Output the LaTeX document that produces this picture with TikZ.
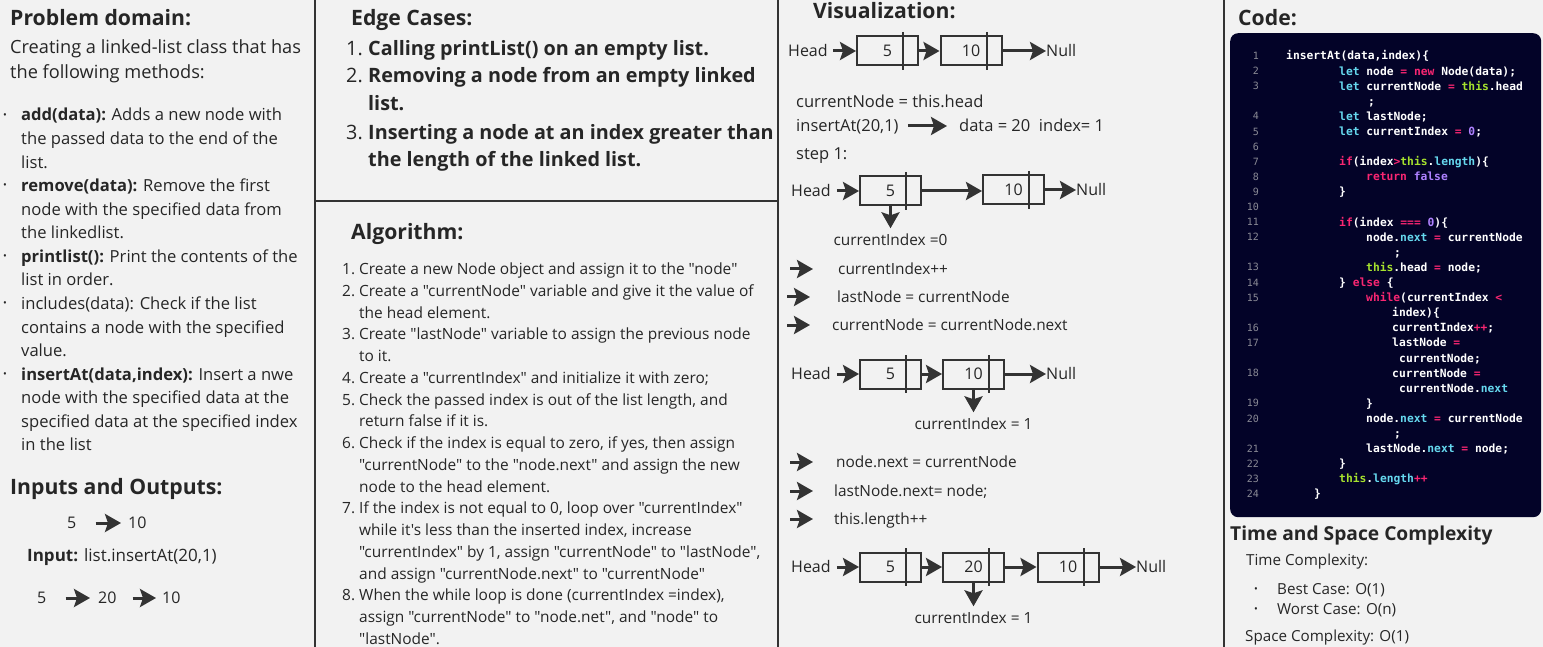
\documentclass[tikz,border=0pt]{standalone}
\usepackage{fontspec}
\setmainfont{Open Sans}[Ligatures=TeXOff]
\setmonofont{DejaVu Sans Mono}
\usetikzlibrary{arrows.meta}
\definecolor{bg}{HTML}{F2F2F2}
\definecolor{ink}{HTML}{333333}
\definecolor{txtc}{HTML}{262626}
\definecolor{codebg}{RGB}{3,3,40}
\definecolor{cpk}{HTML}{F92672}
\definecolor{ccy}{HTML}{66D9EF}
\definecolor{cgr}{HTML}{A6E22E}
\definecolor{cpu}{HTML}{AE81FF}
\definecolor{cln}{HTML}{8A8A95}
\newcommand\kP[1]{\textcolor{cpk}{#1}}
\newcommand\kC[1]{\textcolor{ccy}{#1}}
\newcommand\kG[1]{\textcolor{cgr}{#1}}
\newcommand\kU[1]{\textcolor{cpu}{#1}}
\newcommand\TX[4]{\node[#1] (#2) at (#3) {#4};}
\newcommand\CD[4]{\node[code] (#1) at (#2,{56+15.1*#3}) {#4};}
\newcommand\LN[2]{\node[lnum] (ln#1) at (1259,{56+15.1*#2}) {#1};}
\newcommand\DV[1]{\draw[div] ([xshift=-16pt,yshift=3.5pt]#1.north east) -- ([xshift=-16pt,yshift=-3.5pt]#1.south east);}
\tikzset{
  txt/.style={anchor=west, inner sep=0pt, text=txtc},
  ttl/.style={txt, font=\fontsize{21.2}{25}\selectfont\bfseries, text height=15.1pt, text depth=0pt},
  ttlb/.style={txt, font=\fontsize{19.2}{23}\selectfont\bfseries, text height=13.7pt, text depth=0pt},
  intro/.style={txt, font=\fontsize{18.2}{22}\selectfont, text height=13pt, text depth=0pt},
  bul/.style={txt, font=\fontsize{16.6}{20}\selectfont, text height=11.85pt, text depth=0pt},
  dot/.style={txt, font=\fontsize{10}{12}\selectfont, text height=6.6pt, text depth=0pt},
  edge/.style={txt, font=\fontsize{19.8}{24}\selectfont\bfseries, text height=14.1pt, text depth=0pt},
  edgen/.style={txt, font=\fontsize{19.8}{24}\selectfont, text height=14.1pt, text depth=0pt},
  alg/.style={txt, font=\fontsize{15.45}{18}\selectfont, text height=11pt, text depth=0pt},
  viz/.style={txt, font=\fontsize{15.4}{18}\selectfont, text height=11pt, text depth=0pt},
  vizb/.style={txt, font=\fontsize{16}{19}\selectfont, text height=11.4pt, text depth=0pt},
  vizl/.style={txt, font=\fontsize{16.5}{20}\selectfont, text height=11.8pt, text depth=0pt},
  io/.style={txt, font=\fontsize{16}{19}\selectfont, text height=11.4pt, text depth=0pt},
  small/.style={txt, font=\fontsize{17}{20}\selectfont, text height=12.1pt, text depth=0pt},
  tc/.style={txt, font=\fontsize{15.2}{18}\selectfont, text height=10.85pt, text depth=0pt},
  code/.style={txt, text=white, font=\fontsize{11.3}{13}\selectfont\ttfamily\bfseries, text height=8pt, text depth=0pt},
  lnum/.style={anchor=east, inner sep=0pt, text=cln, font=\fontsize{10}{12}\selectfont\ttfamily, text height=7.2pt, text depth=0pt},
  cell/.style={draw=ink, line width=2pt, minimum width=61pt, minimum height=29pt, inner sep=0pt, text=txtc, font=\fontsize{16}{19}\selectfont},
  div/.style={draw=ink, line width=2pt},
  arr/.style={draw=ink, line width=3pt, -{Stealth[length=16pt,width=18pt,inset=3pt]}},
  panel/.style={draw=ink, line width=2.2pt},
}
\begin{document}
\begin{tikzpicture}[x=1pt,y=-1pt]
\useasboundingbox (0,0) rectangle (1543,647);
\fill[bg] (0,0) rectangle (1543,647);
% panel separators
\draw[panel] (315,0) -- (315,647);
\draw[panel] (778,0) -- (778,647);
\draw[panel] (1224,0) -- (1224,647);
\draw[panel] (315,201) -- (778,201);

% ---------- Problem domain ----------
\TX{ttl}{pd}{10,18}{Problem domain:}
\TX{intro}{pd1}{10,47}{Creating a linked-list class that has}
\TX{intro}{pd2}{10,72}{the following methods:}
\TX{dot}{d1}{3,115}{•}
\TX{bul}{b1a}{21,115}{\textbf{add(data):} Adds a new node with}
\TX{bul}{b1b}{21,138.6}{the passed data to the end of the}
\TX{bul}{b1c}{21,162.1}{list.}
\TX{dot}{d2}{3,185.7}{•}
\TX{bul}{b2a}{21,185.7}{\textbf{remove(data):} Remove the first}
\TX{bul}{b2b}{21,209.3}{node with the specified data from}
\TX{bul}{b2c}{21,232.9}{the linkedlist.}
\TX{dot}{d3}{3,256.4}{•}
\TX{bul}{b3a}{21,256.4}{\textbf{printlist():} Print the contents of the}
\TX{bul}{b3b}{21,280}{list in order.}
\TX{dot}{d4}{3,303.6}{•}
\TX{bul}{b4a}{21,303.6}{includes(data): Check if the list}
\TX{bul}{b4b}{21,327.1}{contains a node with the specified}
\TX{bul}{b4c}{21,350.7}{value.}
\TX{dot}{d5}{3,374.3}{•}
\TX{bul}{b5a}{21,374.3}{\textbf{insertAt(data,index):} Insert a nwe}
\TX{bul}{b5b}{21,397.9}{node with the specified data at the}
\TX{bul}{b5c}{21,421.4}{specified data at the specified index}
\TX{bul}{b5d}{21,445}{in the list}

% ---------- Inputs and Outputs ----------
\TX{ttl}{iot}{10,487}{Inputs and Outputs:}
\TX{io}{ia5}{67,523}{5}
\TX{io}{ia10}{128,523}{10}
\draw[arr] ([xshift=19pt]ia5.east) -- ([xshift=-7pt]ia10.west);
\TX{small}{inp}{27,555}{\textbf{Input:} list.insertAt(20,1)}
\TX{io}{ob5}{37,598}{5}
\TX{io}{ob20}{98,598}{20}
\TX{io}{ob10}{162,598}{10}
\draw[arr] ([xshift=19pt]ob5.east) -- ([xshift=-8pt]ob20.west);
\draw[arr] ([xshift=16pt]ob20.east) -- ([xshift=-6pt]ob10.west);

% ---------- Edge cases ----------
\TX{ttl}{ect}{351,18}{Edge Cases:}
\TX{edgen}{e1n}{346,48}{1.}
\TX{edge}{e1}{368,48}{Calling printList() on an empty list.}
\TX{edgen}{e2n}{346,75}{2.}
\TX{edge}{e2}{368,75}{Removing a node from an empty linked}
\TX{edge}{e2b}{368,103}{list.}
\TX{edgen}{e3n}{346,132}{3.}
\TX{edge}{e3}{368,132}{Inserting a node at an index greater than}
\TX{edge}{e3b}{368,159}{the length of the linked list.}

% ---------- Algorithm ----------
\TX{ttl}{algt}{351,232}{Algorithm:}
\TX{alg}{a1n}{342,269}{1.}
\TX{alg}{a1}{359,269}{Create a new Node object and assign it to the "node"}
\TX{alg}{a2n}{342,290.8}{2.}
\TX{alg}{a2}{359,290.8}{Create a "currentNode" variable and give it the value of}
\TX{alg}{a2b}{359,312.5}{the head element.}
\TX{alg}{a3n}{342,334.3}{3.}
\TX{alg}{a3}{359,334.3}{Create "lastNode" variable to assign the previous node}
\TX{alg}{a3b}{359,356}{to it.}
\TX{alg}{a4n}{342,377.8}{4.}
\TX{alg}{a4}{359,377.8}{Create a "currentIndex" and initialize it with zero;}
\TX{alg}{a5n}{342,399.6}{5.}
\TX{alg}{a5}{359,399.6}{Check the passed index is out of the list length, and}
\TX{alg}{a5b}{359,421.3}{return false if it is.}
\TX{alg}{a6n}{342,443.1}{6.}
\TX{alg}{a6}{359,443.1}{Check if the index is equal to zero, if yes, then assign}
\TX{alg}{a6b}{359,464.8}{"currentNode" to the "node.next" and assign the new}
\TX{alg}{a6c}{359,486.6}{node to the head element.}
\TX{alg}{a7n}{342,508.4}{7.}
\TX{alg}{a7}{359,508.4}{If the index is not equal to 0, loop over "currentIndex"}
\TX{alg}{a7b}{359,530.1}{while it's less than the inserted index, increase}
\TX{alg}{a7c}{359,551.9}{"currentIndex" by 1, assign "currentNode" to "lastNode",}
\TX{alg}{a7d}{359,573.6}{and assign "currentNode.next" to "currentNode"}
\TX{alg}{a8n}{342,595.4}{8.}
\TX{alg}{a8}{359,595.4}{When the while loop is done (currentIndex =index),}
\TX{alg}{a8b}{359,617.1}{assign "currentNode" to "node.net", and "node" to}
\TX{alg}{a8c}{359,638.9}{"lastNode".}

% ---------- Visualization ----------
\TX{ttl}{vizt}{813,11}{Visualization:}
% row 1
\TX{vizb}{h1}{788,51}{Head}
\node[cell] (r1a) at (887.5,51) {5};
\node[cell] (r1b) at (971,51) {10};
\TX{vizb}{nl1}{1046,51}{Null}
\DV{r1a}\DV{r1b}
\draw[arr] ([xshift=5pt]h1.east) -- (r1a.west);
\draw[arr] (r1a.east) -- (r1b.west);
\draw[arr] (r1b.east) -- (nl1.west);

\TX{vizl}{cn}{796,102}{currentNode = this.head}
\TX{vizl}{ins}{796,126}{insertAt(20,1)}
\TX{vizl}{dat}{959,126}{data = 20~~index= 1}
\draw[arr] ([xshift=9pt]ins.east) -- ([xshift=-12pt]dat.west);
\TX{vizl}{st1}{796,154}{step 1:}

% row 2
\TX{vizb}{h2}{791,191}{Head}
\node[cell] (r2a) at (890.5,191) {5};
\node[cell] (r2b) at (1013.5,190) {10};
\TX{vizb}{nl2}{1076,190}{Null}
\DV{r2a}\DV{r2b}
\draw[arr] ([xshift=6pt]h2.east) -- (r2a.west);
\draw[arr] (r2a.east) -- (r2b.west |- r2a.east);
\draw[arr] (r2b.east) -- (nl2.west);
\node[viz, anchor=center] (ci0) at (890.5,240) {currentIndex =0};
\draw[arr] (r2a.south) -- ([yshift=6pt]ci0.north);

\coordinate (p1s) at (790,269); \coordinate (p1e) at (813,269);
\draw[arr] (p1s) -- (p1e);
\TX{viz}{s1}{838,269}{currentIndex++}
\coordinate (p2s) at (787,297); \coordinate (p2e) at (810,297);
\draw[arr] (p2s) -- (p2e);
\TX{viz}{s2}{837,297}{lastNode = currentNode}
\coordinate (p3s) at (787,325); \coordinate (p3e) at (810,325);
\draw[arr] (p3s) -- (p3e);
\TX{viz}{s3}{832,325}{currentNode = currentNode.next}

% row 3
\TX{vizb}{h3}{791,374}{Head}
\node[cell] (r3a) at (890.5,374) {5};
\node[cell] (r3b) at (973.5,374) {10};
\TX{vizb}{nl3}{1046,374}{Null}
\DV{r3a}\DV{r3b}
\draw[arr] ([xshift=6pt]h3.east) -- (r3a.west);
\draw[arr] (r3a.east) -- (r3b.west);
\draw[arr] (r3b.east) -- (nl3.west);
\node[viz, anchor=center] (ci1) at (973.5,424) {currentIndex = 1};
\draw[arr] (r3b.south) -- ([yshift=6pt]ci1.north);

\coordinate (p4s) at (790,462); \coordinate (p4e) at (813,462);
\draw[arr] (p4s) -- (p4e);
\TX{viz}{s4}{836,462}{node.next = currentNode}
\coordinate (p5s) at (790,491); \coordinate (p5e) at (813,491);
\draw[arr] (p5s) -- (p5e);
\TX{viz}{s5}{834,491}{lastNode.next= node;}
\coordinate (p6s) at (790,519); \coordinate (p6e) at (813,519);
\draw[arr] (p6s) -- (p6e);
\TX{viz}{s6}{834,519}{this.length++}

% row 4
\TX{vizb}{h4}{791,567}{Head}
\node[cell] (r4a) at (890.5,567) {5};
\node[cell] (r4b) at (973.5,567) {20};
\node[cell] (r4c) at (1068,567) {10};
\TX{vizb}{nl4}{1136,567}{Null}
\DV{r4a}\DV{r4b}\DV{r4c}
\draw[arr] ([xshift=6pt]h4.east) -- (r4a.west);
\draw[arr] (r4a.east) -- (r4b.west);
\draw[arr] (r4b.east) -- (r4c.west);
\draw[arr] (r4c.east) -- (nl4.west);
\node[viz, anchor=center] (ci2) at (973.5,618) {currentIndex = 1};
\draw[arr] (r4b.south) -- ([yshift=6pt]ci2.north);

% ---------- Code ----------
\TX{ttl}{codet}{1238,18}{Code:}
\node[fill=codebg, rounded corners=8pt, minimum width=311pt, minimum height=484pt, anchor=north west, inner sep=0pt] (codebox) at (1230,33) {};
\CD{c1}{1286}{0}{insertAt(data,index)\{}
\CD{c2}{1339}{1}{\kC{let} node \kP{=} \kP{new} Node(data);}
\CD{c3}{1339}{2}{\kC{let} currentNode \kP{=} \kG{this}.head}
\CD{c3w}{1368}{3}{;}
\CD{c4}{1339}{4}{\kC{let} lastNode;}
\CD{c5}{1339}{5}{\kC{let} currentIndex \kP{=} \kU{0};}
\CD{c7}{1339}{7}{\kP{if}(index\kP{>}\kG{this}.\kC{length})\{}
\CD{c8}{1366}{8}{\kP{return} \kU{false}}
\CD{c9}{1339}{9}{\}}
\CD{c11}{1339}{11}{\kP{if}(index \kP{===} \kU{0})\{}
\CD{c12}{1366}{12}{node.\kC{next} \kP{=} currentNode}
\CD{c12w}{1394}{13}{;}
\CD{c13}{1366}{14}{\kG{this}.head \kP{=} node;}
\CD{c14}{1339}{15}{\} \kP{else} \{}
\CD{c15}{1366}{16}{\kP{while}(currentIndex \kP{<}}
\CD{c15w}{1392}{17}{index)\{}
\CD{c16}{1392}{18}{currentIndex\kP{++};}
\CD{c17}{1392}{19}{lastNode \kP{=}}
\CD{c17w}{1399}{20}{currentNode;}
\CD{c18}{1392}{21}{currentNode \kP{=}}
\CD{c18w}{1399}{22}{currentNode.\kC{next}}
\CD{c19}{1366}{23}{\}}
\CD{c20}{1366}{24}{node.\kC{next} \kP{=} currentNode}
\CD{c20w}{1394}{25}{;}
\CD{c21}{1366}{26}{lastNode.\kC{next} \kP{=} node;}
\CD{c22}{1339}{27}{\}}
\CD{c23}{1339}{28}{\kG{this}.\kC{length}\kP{++}}
\CD{c24}{1314}{29}{\}}
\LN{1}{0}\LN{2}{1}\LN{3}{2}\LN{4}{4}\LN{5}{5}\LN{6}{6}\LN{7}{7}\LN{8}{8}
\LN{9}{9}\LN{10}{10}\LN{11}{11}\LN{12}{12}\LN{13}{14}\LN{14}{15}\LN{15}{16}
\LN{16}{18}\LN{17}{19}\LN{18}{21}\LN{19}{23}\LN{20}{24}\LN{21}{26}\LN{22}{27}
\LN{23}{28}\LN{24}{29}

% ---------- Complexity ----------
\TX{ttlb}{tsc}{1230,534}{Time and Space Complexity}
\TX{tc}{tc1}{1246,560}{Time Complexity:}
\TX{dot}{d6}{1254,589}{•}
\TX{tc}{tc2}{1277,589}{Best Case: O(1)}
\TX{dot}{d7}{1254,609}{•}
\TX{tc}{tc3}{1277,609}{Worst Case: O(n)}
\TX{tc}{tc4}{1245,636}{Space Complexity: O(1)}
\end{tikzpicture}
\end{document}
